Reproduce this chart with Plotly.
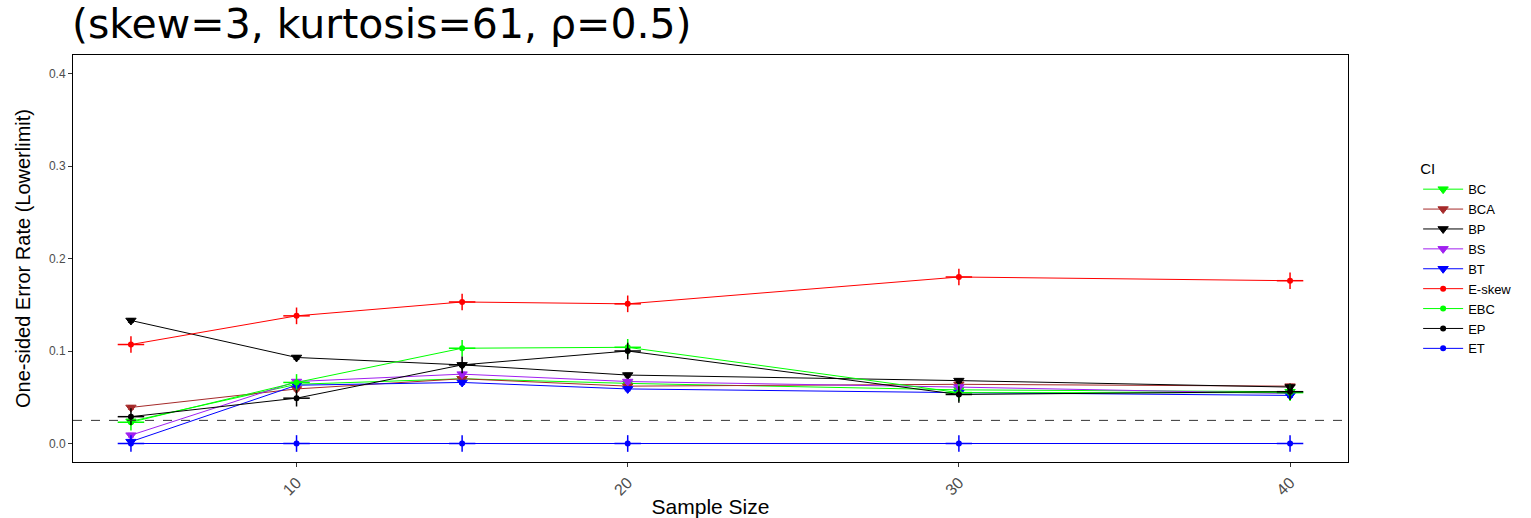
import plotly.graph_objects as go

sample_size = [5, 10, 15, 20, 30, 40]

ci_names = ["BC", "BCA", "BP", "BS", "BT", "E-skew", "EBC", "EP", "ET"]

bc = [0.024, 0.064, 0.070, 0.065, 0.058, 0.056]
bca = [0.039, 0.059, 0.070, 0.062, 0.064, 0.062]
bp = [0.133, 0.093, 0.085, 0.074, 0.068, 0.061]
bs = [0.009, 0.067, 0.075, 0.067, 0.061, 0.054]
bt = [0.002, 0.063, 0.066, 0.059, 0.055, 0.052]
e_skew = [0.107, 0.138, 0.153, 0.151, 0.180, 0.176]
ebc = [0.023, 0.066, 0.103, 0.104, 0.055, 0.055]
ep = [0.029, 0.049, 0.085, 0.100, 0.053, 0.056]
et = [0.0, 0.0, 0.0, 0.0, 0.0, 0.0]

nominal_level = 0.025

series = {
    "BC": bc, "BCA": bca, "BP": bp, "BS": bs, "BT": bt,
    "E-skew": e_skew, "EBC": ebc, "EP": ep, "ET": et,
}
colors = {
    "BC": "#00FF00", "BCA": "#A52A2A", "BP": "#000000", "BS": "#A020F0",
    "BT": "#0000FF", "E-skew": "#FF0000", "EBC": "#00FF00", "EP": "#000000",
    "ET": "#0000FF",
}

fig = go.Figure()

for name in ci_names:
    c = colors[name]
    bootstrap = not name.startswith("E")
    if bootstrap:
        marker = dict(symbol="triangle-down", size=9, color=c,
                      line=dict(color=c, width=1))
        err_y = dict(type="constant", value=0.002, color=c, thickness=1, width=3)
        err_x = dict(visible=False)
    else:
        marker = dict(symbol="circle", size=6, color=c)
        err_y = dict(type="constant", value=0.009, color=c, thickness=1.5, width=0)
        err_x = dict(type="constant", value=0.4, color=c, thickness=1.5, width=0)
    fig.add_trace(go.Scatter(
        x=sample_size, y=series[name], name=name, mode="lines+markers",
        line=dict(color=c, width=1), marker=marker,
        error_y=err_y, error_x=err_x,
    ))

fig.add_hline(y=nominal_level, line=dict(color="#333333", width=1, dash="dash"))

narrow = "Liberation Sans Narrow, Arial Narrow, Liberation Sans, sans-serif"
fig.update_layout(
    width=1531, height=518,
    margin=dict(l=73, r=183, t=55, b=56, autoexpand=False),
    paper_bgcolor="white", plot_bgcolor="white",
    title=dict(text="(skew=3, kurtosis=61, \u03c1=0.5)", x=0.047, xanchor="left",
               y=0.955, yanchor="middle",
               font=dict(family="DejaVu Sans, sans-serif", size=41, color="black")),
    xaxis=dict(range=[3.25, 41.75], tickvals=[10, 20, 30, 40], tickangle=-45,
               showgrid=False, zeroline=False, showline=True, mirror=True,
               linecolor="black", linewidth=1, ticks="outside", ticklen=4,
               tickcolor="#333333", automargin=False,
               tickfont=dict(family="Liberation Sans, Arial, sans-serif", size=16, color="#4D4D4D"),
               title=dict(text="Sample Size", standoff=4,
                          font=dict(family="Liberation Sans, Arial, sans-serif", size=21, color="black"))),
    yaxis=dict(range=[-0.02, 0.42], tickvals=[0.0, 0.1, 0.2, 0.3, 0.4], tickformat=".1f",
               showgrid=False, zeroline=False, showline=True, mirror=True,
               linecolor="black", linewidth=1, ticks="outside", ticklen=4,
               tickcolor="#333333", automargin=False,
               tickfont=dict(family="Liberation Sans, Arial, sans-serif", size=12, color="#4D4D4D"),
               title=dict(text="One-sided Error Rate (Lowerlimit)", standoff=12,
                          font=dict(family=narrow, size=20, color="black"))),
    legend=dict(x=1.055, y=0.755, xanchor="left", yanchor="top",
                title=dict(text="CI", font=dict(family="Liberation Sans, Arial, sans-serif", size=15, color="black")),
                font=dict(family="Liberation Sans, Arial, sans-serif", size=13, color="black"),
                tracegroupgap=3, itemwidth=40, bgcolor="rgba(0,0,0,0)"),
    showlegend=True,
)

fig.write_html("out.html")
